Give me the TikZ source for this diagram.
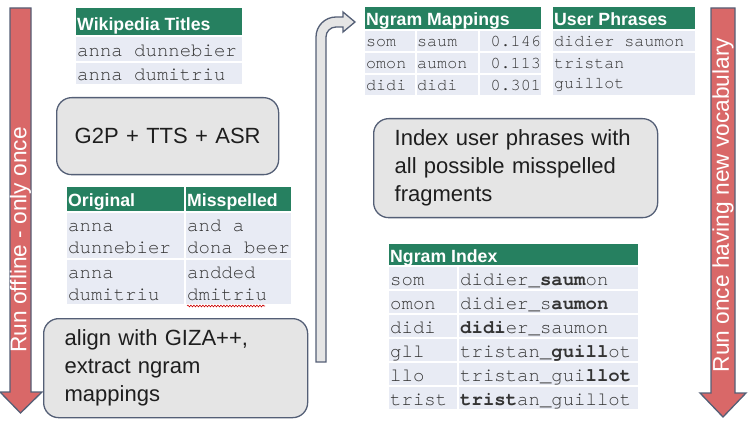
\documentclass[tikz,border=0pt]{standalone}
\usepackage{fontspec}
\setmainfont{Liberation Sans}
\newfontfamily\monof{texgyrecursor}[Extension=.otf, UprightFont=*-regular, BoldFont=*-bold]
\usetikzlibrary{decorations.pathmorphing}
\definecolor{arrowred}{RGB}{217,104,104}
\definecolor{slate}{RGB}{84,95,118}
\definecolor{boxgray}{RGB}{229,229,229}
\definecolor{hdrgreen}{RGB}{38,128,96}
\definecolor{rowfill}{RGB}{232,235,244}
\definecolor{monotext}{RGB}{51,51,51}
\definecolor{boxtext}{RGB}{30,30,30}
\tikzset{
 blockarrow/.style={fill=arrowred, draw=slate, line width=1.3pt, line join=miter},
 bentarrow/.style={fill=boxgray, draw=slate, line width=1.3pt},
 procbox/.style={fill=boxgray, draw=slate, line width=1.3pt, rounded corners=15pt, anchor=north west, inner ysep=0pt, align=left, text=boxtext, font=\fontsize{22}{28}\selectfont},
 hdrcell/.style={fill=hdrgreen},
 rowcell/.style={fill=rowfill},
 hdrtext/.style={anchor=base west, inner sep=0pt, text=white, font=\fontsize{17.7}{20}\selectfont\bfseries},
 monoL/.style={anchor=base west, inner sep=0pt, align=left, text=monotext, font=\monof\fontsize{19.0}{22}\selectfont},
 monoS/.style={anchor=base west, inner sep=0pt, align=left, text=monotext, font=\monof\fontsize{16.7}{20}\selectfont},
 arrowtxt/.style={rotate=90, inner sep=0pt, text=white, font=\fontsize{22.7}{26}\selectfont},
}
\begin{document}
\begin{tikzpicture}[x=1pt, y=-1pt]
\useasboundingbox (0,0) rectangle (751,435);

% left block arrow
\draw[blockarrow] (10,8) -- (31,8) -- (31,392) -- (42,392) -- (20.5,413) -- (0,392) -- (10,392) -- cycle;
\node[arrowtxt] (offline) at (20.5,240) {Run offline - only once};

% right block arrow
\draw[blockarrow] (711,8) -- (735,8) -- (735,393) -- (746,393) -- (723,417) -- (700,393) -- (711,393) -- cycle;
\node[arrowtxt] (online) at (723,205) {Run once having new vocabulary};

% Wikipedia titles table
\fill[hdrcell] (76,8) rectangle (242,35);
\fill[rowcell] (76,37) rectangle (242,61);
\fill[rowcell] (76,63) rectangle (242,84);
\node[hdrtext] (wth) at (77,31) {Wikipedia Titles};
\node[monoL] (wt1) at (77,57) {anna dunnebier};
\node[monoL] (wt2) at (77,81) {anna dumitriu};

% G2P box
\node[procbox, minimum width=222pt, minimum height=77pt, text width=194pt, inner xsep=14pt, align=center] (g2p) at (56,97) {G2P + TTS + ASR};

% Original / Misspelled table
\fill[hdrcell] (67,187) rectangle (184,211);
\fill[hdrcell] (186,187) rectangle (291,211);
\fill[rowcell] (67,213) rectangle (184,258);
\fill[rowcell] (186,213) rectangle (291,258);
\fill[rowcell] (67,260) rectangle (184,304);
\fill[rowcell] (186,260) rectangle (291,304);
\node[hdrtext] (oh) at (68,207) {Original};
\node[hdrtext] (mh) at (187,207) {Misspelled};
\node[monoL] (o1) at (68,254) {anna\\dunnebier};
\node[monoL] (m1) at (187,254) {and a\\dona beer};
\node[monoL] (o2) at (68,300) {anna\\dumitriu};
\node[monoL] (m2) at (187,300) {andded\\dmitriu};
\draw[red!80!black, line width=0.6pt, decorate, decoration={snake, amplitude=0.9pt, segment length=3pt}] (187,306) -- (265,306);

% GIZA box
\node[procbox, minimum width=264pt, minimum height=99pt, text width=222pt, inner xsep=21pt] (giza) at (43,318) {align with GIZA++,\\extract ngram\\mappings};

% bent arrow
\draw[bentarrow] (316,362) -- (316,37) arc[start angle=180, end angle=270, radius=20] -- (343,17) -- (343,12) -- (355,22) -- (343,32) -- (343,27) -- (336,27) arc[start angle=270, end angle=180, radius=10] -- (326,362) -- cycle;

% Ngram mappings table
\fill[hdrcell] (365,7) rectangle (541,29);
\foreach \t in {31,53,75}{
  \fill[rowcell] (365,\t) rectangle (415,\t+20);
  \fill[rowcell] (417,\t) rectangle (478,\t+20);
  \fill[rowcell] (480,\t) rectangle (541,\t+20);
}
\node[hdrtext] (nmh) at (366,26) {Ngram Mappings};
\node[monoS] (nm11) at (366,47) {som};
\node[monoS] (nm12) at (417,47) {saum};
\node[monoS, anchor=base east] (nm13) at (541,47) {0.146};
\node[monoS] (nm21) at (366,69) {omon};
\node[monoS] (nm22) at (417,69) {aumon};
\node[monoS, anchor=base east] (nm23) at (541,69) {0.113};
\node[monoS] (nm31) at (366,91) {didi};
\node[monoS] (nm32) at (417,91) {didi};
\node[monoS, anchor=base east] (nm33) at (541,91) {0.301};

% User phrases table
\fill[hdrcell] (553,7) rectangle (695,29);
\fill[rowcell] (553,31) rectangle (695,51);
\fill[rowcell] (553,53) rectangle (695,95);
\node[hdrtext] (uph) at (554,26) {User Phrases};
\node[monoS] (up1) at (554,47) {didier saumon};
\node[monoS] (up2) at (554,89) {tristan\\guillot};

% Index box
\node[procbox, minimum width=284pt, minimum height=99pt, text width=242pt, inner xsep=21pt] (index) at (373,118) {Index user phrases with\\all possible misspelled\\fragments};

% Ngram index table
\fill[hdrcell] (389,244) rectangle (638,265);
\foreach \t in {267,291,315,339,363,387}{
  \fill[rowcell] (389,\t) rectangle (457,\t+22);
  \fill[rowcell] (459,\t) rectangle (638,\t+22);
}
\node[hdrtext] (nih) at (390,262) {Ngram Index};
\node[monoL] (ni11) at (390,285) {som};
\node[monoL] (ni12) at (460,285) {didier{\bfseries\_saum}on};
\node[monoL] (ni21) at (390,309) {omon};
\node[monoL] (ni22) at (460,309) {didier\_s{\bfseries aumon}};
\node[monoL] (ni31) at (390,333) {didi};
\node[monoL] (ni32) at (460,333) {{\bfseries didi}er\_saumon};
\node[monoL] (ni41) at (390,357) {gll};
\node[monoL] (ni42) at (460,357) {tristan{\bfseries\_guill}ot};
\node[monoL] (ni51) at (390,381) {llo};
\node[monoL] (ni52) at (460,381) {tristan\_gui{\bfseries llot}};
\node[monoL] (ni61) at (390,405) {trist};
\node[monoL] (ni62) at (460,405) {{\bfseries trist}an\_guillot};
\end{tikzpicture}
\end{document}
